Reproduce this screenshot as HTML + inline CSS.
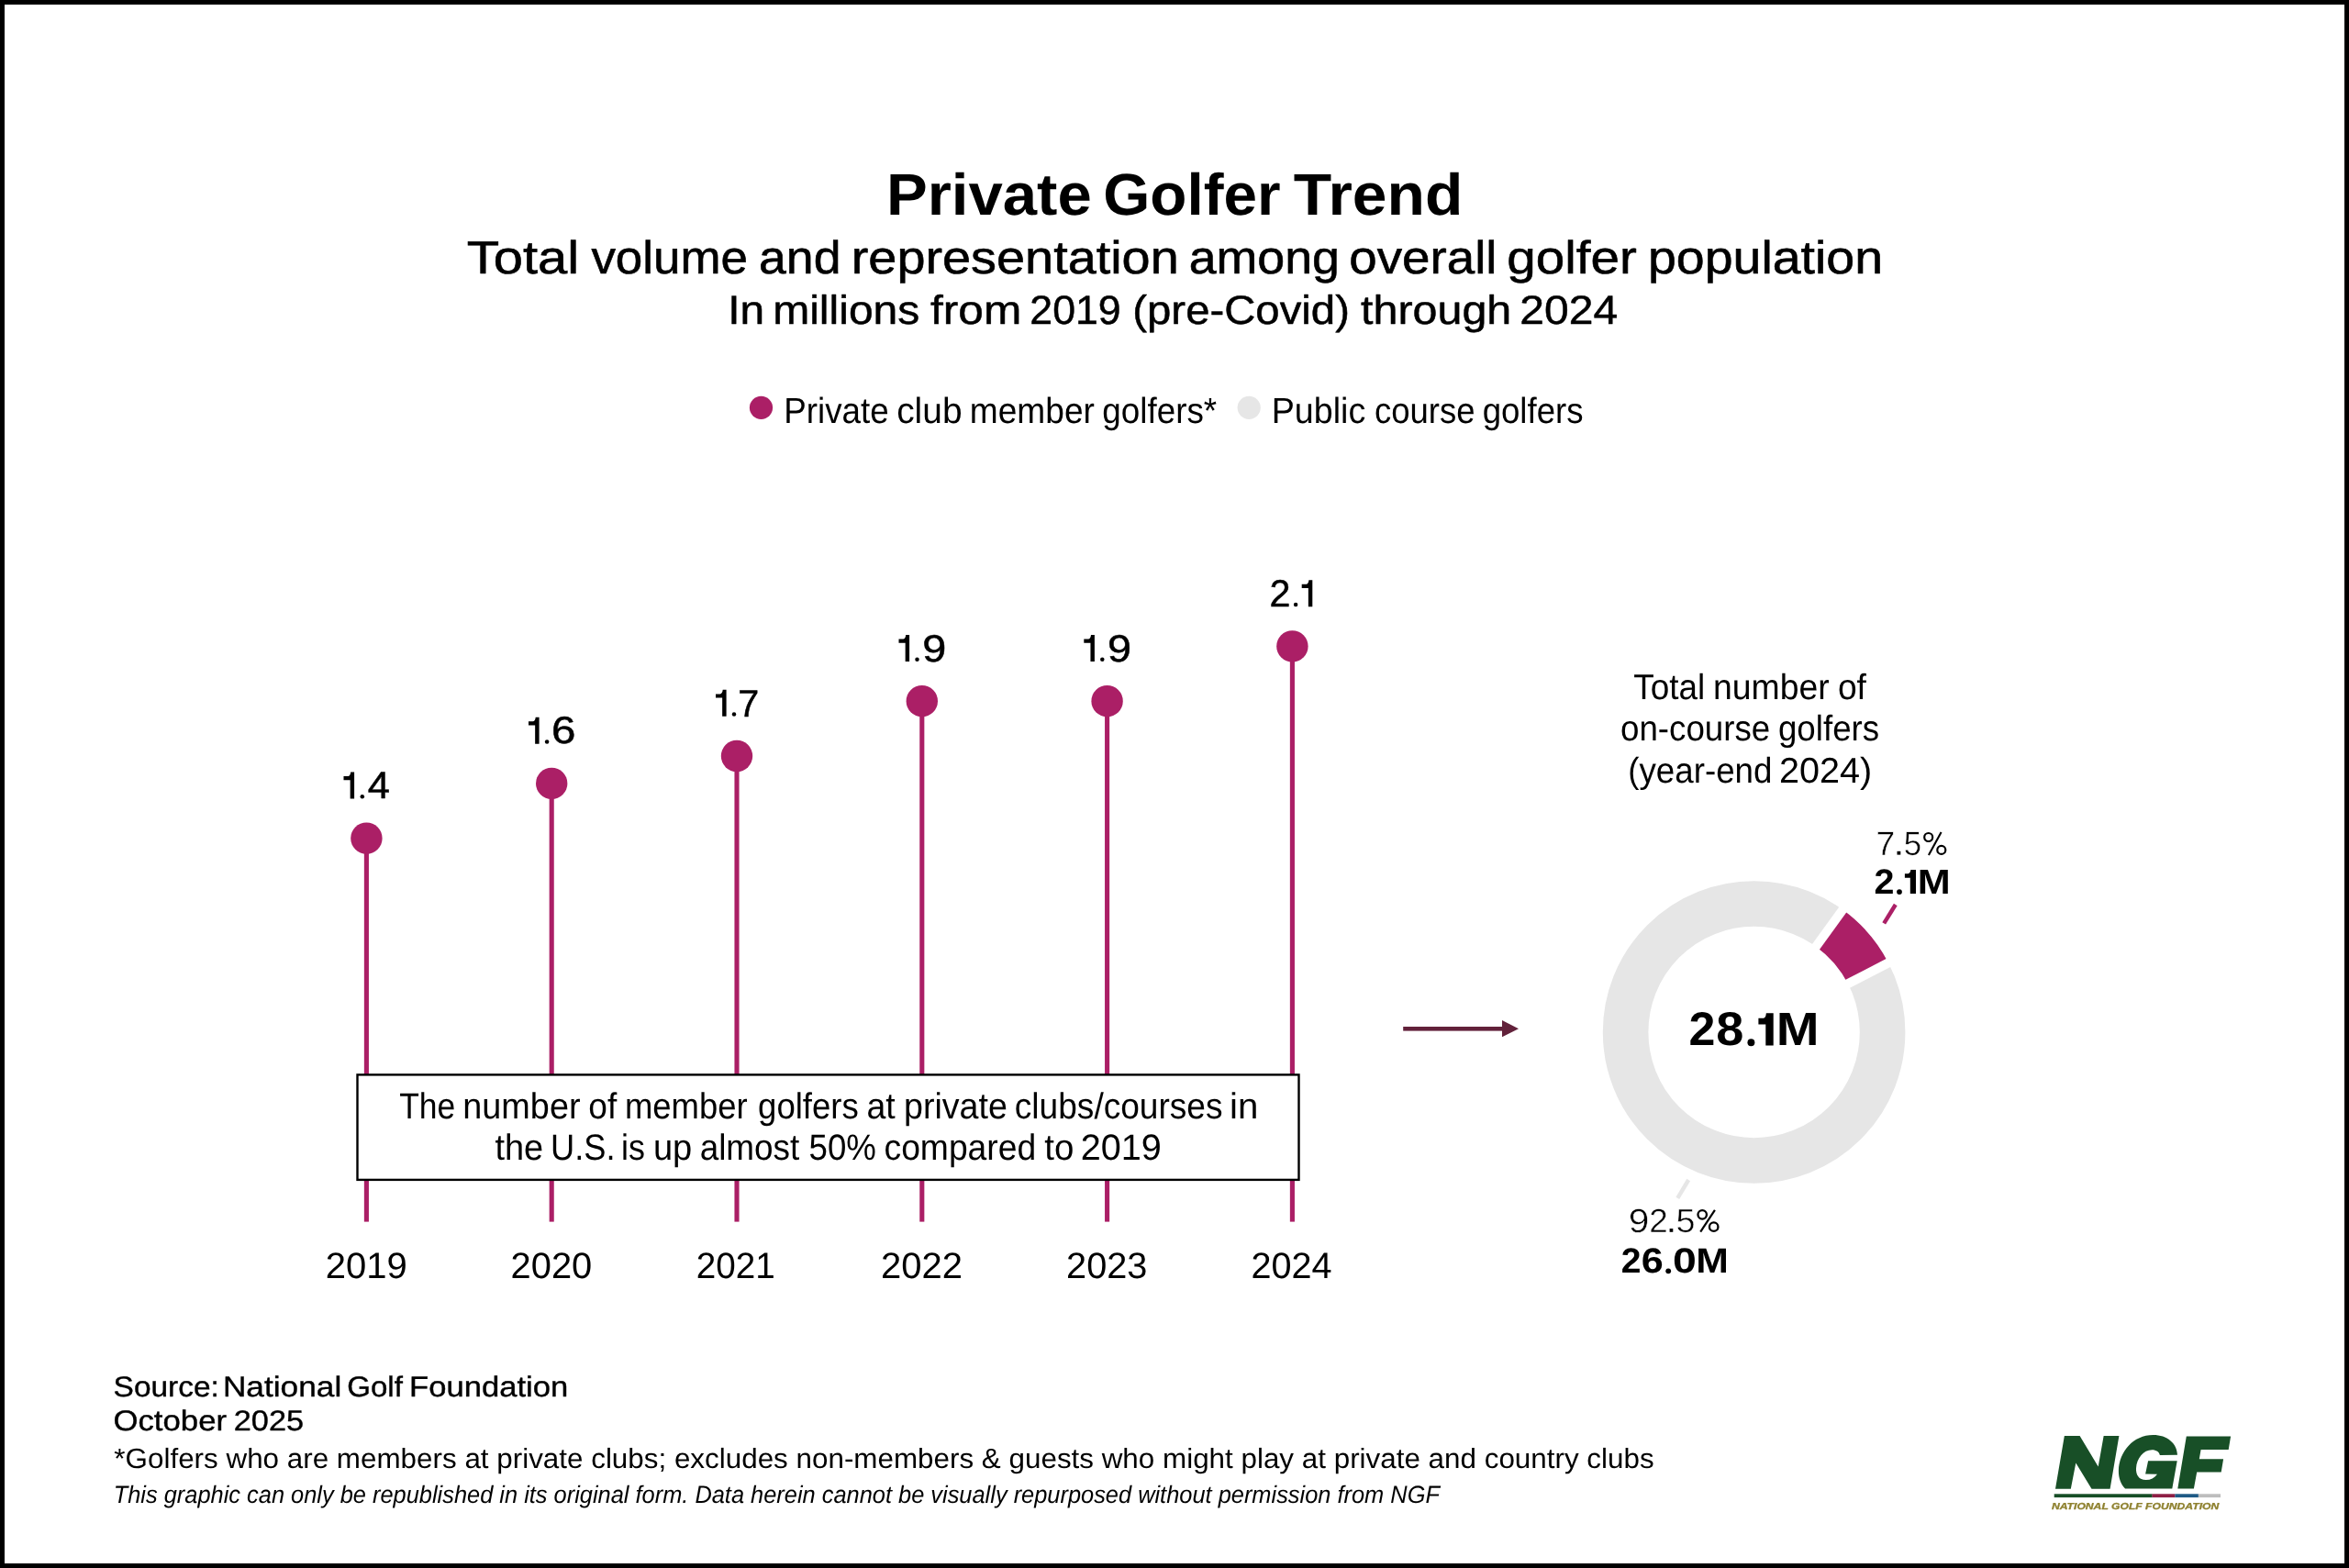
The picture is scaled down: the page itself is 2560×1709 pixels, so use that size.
<!DOCTYPE html>
<html lang="en"><head><meta charset="utf-8"><title>Private Golfer Trend</title>
<style>
html,body{margin:0;padding:0;background:#fff;}
body{width:2560px;height:1709px;overflow:hidden;position:relative;font-family:"Liberation Sans",sans-serif;}
#frame{position:absolute;left:0;top:0;width:2550px;height:1699px;border:5px solid #000;background:#fff;}
svg{position:absolute;left:0;top:0;will-change:transform;}
svg text{font-family:"Liberation Sans",sans-serif;text-rendering:geometricPrecision;}
</style></head><body>
<div id="frame"></div>
<svg width="2560" height="1709" viewBox="0 0 2560 1709">
<rect x="396.85" y="913.70" width="5.1" height="417.90" fill="#ab1f66"/>
<circle cx="399.40" cy="913.70" r="17.2" fill="#ab1f66"/>
<rect x="598.65" y="853.90" width="5.1" height="477.70" fill="#ab1f66"/>
<circle cx="601.20" cy="853.90" r="17.2" fill="#ab1f66"/>
<rect x="800.45" y="824.00" width="5.1" height="507.60" fill="#ab1f66"/>
<circle cx="803.00" cy="824.00" r="17.2" fill="#ab1f66"/>
<rect x="1002.25" y="764.20" width="5.1" height="567.40" fill="#ab1f66"/>
<circle cx="1004.80" cy="764.20" r="17.2" fill="#ab1f66"/>
<rect x="1204.05" y="764.20" width="5.1" height="567.40" fill="#ab1f66"/>
<circle cx="1206.60" cy="764.20" r="17.2" fill="#ab1f66"/>
<rect x="1405.85" y="704.40" width="5.1" height="627.20" fill="#ab1f66"/>
<circle cx="1408.40" cy="704.40" r="17.2" fill="#ab1f66"/>
<path fill="#000" d="M382.20,841.50 L386.10,841.50 L386.10,870.50 L381.65,870.50 L381.65,850.20 L374.50,850.20 L374.50,846.10 L379.25,846.10 Q381.75,845.90 382.20,841.50 Z"/>
<circle cx="394.80" cy="868.30" r="2.25" fill="#000"/>
<text x="400.65" y="870.25" font-size="41.43" font-weight="normal" font-style="normal" fill="#000" textLength="24.17" lengthAdjust="spacingAndGlyphs" stroke="#000" stroke-width="0.5" stroke-linejoin="round">4</text>
<path fill="#000" d="M583.70,781.70 L587.60,781.70 L587.60,810.70 L583.15,810.70 L583.15,790.40 L576.00,790.40 L576.00,786.30 L580.75,786.30 Q583.25,786.10 583.70,781.70 Z"/>
<circle cx="596.10" cy="808.50" r="2.25" fill="#000"/>
<text x="601.04" y="810.45" font-size="41.43" font-weight="normal" font-style="normal" fill="#000" textLength="26.40" lengthAdjust="spacingAndGlyphs" stroke="#000" stroke-width="0.5" stroke-linejoin="round">6</text>
<path fill="#000" d="M787.70,751.80 L791.60,751.80 L791.60,780.80 L787.15,780.80 L787.15,760.50 L780.00,760.50 L780.00,756.40 L784.75,756.40 Q787.25,756.20 787.70,751.80 Z"/>
<circle cx="800.00" cy="778.60" r="2.25" fill="#000"/>
<text x="804.13" y="780.55" font-size="41.43" font-weight="normal" font-style="normal" fill="#000" textLength="23.00" lengthAdjust="spacingAndGlyphs" stroke="#000" stroke-width="0.5" stroke-linejoin="round">7</text>
<path fill="#000" d="M987.20,692.00 L991.10,692.00 L991.10,721.00 L986.65,721.00 L986.65,700.70 L979.50,700.70 L979.50,696.60 L984.25,696.60 Q986.75,696.40 987.20,692.00 Z"/>
<circle cx="999.50" cy="718.80" r="2.25" fill="#000"/>
<text x="1005.16" y="720.75" font-size="41.43" font-weight="normal" font-style="normal" fill="#000" textLength="26.01" lengthAdjust="spacingAndGlyphs" stroke="#000" stroke-width="0.5" stroke-linejoin="round">9</text>
<path fill="#000" d="M1189.00,692.00 L1192.90,692.00 L1192.90,721.00 L1188.45,721.00 L1188.45,700.70 L1181.30,700.70 L1181.30,696.60 L1186.05,696.60 Q1188.55,696.40 1189.00,692.00 Z"/>
<circle cx="1201.30" cy="718.80" r="2.25" fill="#000"/>
<text x="1206.96" y="720.75" font-size="41.43" font-weight="normal" font-style="normal" fill="#000" textLength="26.01" lengthAdjust="spacingAndGlyphs" stroke="#000" stroke-width="0.5" stroke-linejoin="round">9</text>
<path fill="#000" d="M1426.40,632.20 L1430.30,632.20 L1430.30,661.20 L1425.85,661.20 L1425.85,640.90 L1418.70,640.90 L1418.70,636.80 L1423.45,636.80 Q1425.95,636.60 1426.40,632.20 Z"/>
<circle cx="1412.10" cy="659.00" r="2.25" fill="#000"/>
<text x="1383.47" y="660.95" font-size="41.43" font-weight="normal" font-style="normal" fill="#000" textLength="22.95" lengthAdjust="spacingAndGlyphs" stroke="#000" stroke-width="0.5" stroke-linejoin="round">2</text>
<rect x="389.5" y="1171.4" width="1026" height="114.5" fill="#fff" stroke="#000" stroke-width="2.4"/>
<text x="435.20" y="1218.80" font-size="39.68" font-weight="normal" font-style="normal" fill="#000" textLength="61.07" lengthAdjust="spacingAndGlyphs">The</text>
<text x="504.29" y="1218.80" font-size="39.68" font-weight="normal" font-style="normal" fill="#000" textLength="128.24" lengthAdjust="spacingAndGlyphs">number</text>
<text x="641.34" y="1218.80" font-size="39.68" font-weight="normal" font-style="normal" fill="#000" textLength="30.90" lengthAdjust="spacingAndGlyphs">of</text>
<text x="680.88" y="1218.80" font-size="39.68" font-weight="normal" font-style="normal" fill="#000" textLength="133.73" lengthAdjust="spacingAndGlyphs">member</text>
<text x="826.06" y="1218.80" font-size="39.68" font-weight="normal" font-style="normal" fill="#000" textLength="109.76" lengthAdjust="spacingAndGlyphs">golfers</text>
<text x="944.41" y="1218.80" font-size="39.68" font-weight="normal" font-style="normal" fill="#000" textLength="31.27" lengthAdjust="spacingAndGlyphs">at</text>
<text x="984.98" y="1218.80" font-size="39.68" font-weight="normal" font-style="normal" fill="#000" textLength="112.90" lengthAdjust="spacingAndGlyphs">private</text>
<text x="1105.82" y="1218.80" font-size="39.68" font-weight="normal" font-style="normal" fill="#000" textLength="226.72" lengthAdjust="spacingAndGlyphs">clubs/courses</text>
<text x="1340.01" y="1218.80" font-size="39.68" font-weight="normal" font-style="normal" fill="#000" textLength="31.30" lengthAdjust="spacingAndGlyphs">in</text>
<text x="539.43" y="1264.20" font-size="39.68" font-weight="normal" font-style="normal" fill="#000" textLength="52.76" lengthAdjust="spacingAndGlyphs">the</text>
<text x="600.00" y="1264.20" font-size="39.68" font-weight="normal" font-style="normal" fill="#000" textLength="70.51" lengthAdjust="spacingAndGlyphs">U.S.</text>
<text x="677.00" y="1264.20" font-size="39.68" font-weight="normal" font-style="normal" fill="#000" textLength="25.89" lengthAdjust="spacingAndGlyphs">is</text>
<text x="711.93" y="1264.20" font-size="39.68" font-weight="normal" font-style="normal" fill="#000" textLength="42.37" lengthAdjust="spacingAndGlyphs">up</text>
<text x="762.63" y="1264.20" font-size="39.68" font-weight="normal" font-style="normal" fill="#000" textLength="108.64" lengthAdjust="spacingAndGlyphs">almost</text>
<text x="881.53" y="1264.20" font-size="39.68" font-weight="normal" font-style="normal" fill="#000" textLength="73.37" lengthAdjust="spacingAndGlyphs">50%</text>
<text x="963.52" y="1264.20" font-size="39.68" font-weight="normal" font-style="normal" fill="#000" textLength="165.68" lengthAdjust="spacingAndGlyphs">compared</text>
<text x="1138.22" y="1264.20" font-size="39.68" font-weight="normal" font-style="normal" fill="#000" textLength="32.10" lengthAdjust="spacingAndGlyphs">to</text>
<text x="1177.71" y="1264.20" font-size="39.68" font-weight="normal" font-style="normal" fill="#000" textLength="88.17" lengthAdjust="spacingAndGlyphs">2019</text>
<text x="354.79" y="1392.90" font-size="39.83" font-weight="normal" font-style="normal" fill="#000" textLength="89.01" lengthAdjust="spacingAndGlyphs">2019</text>
<text x="556.60" y="1392.90" font-size="39.83" font-weight="normal" font-style="normal" fill="#000" textLength="88.66" lengthAdjust="spacingAndGlyphs">2020</text>
<text x="758.75" y="1392.90" font-size="39.83" font-weight="normal" font-style="normal" fill="#000" textLength="86.03" lengthAdjust="spacingAndGlyphs">2021</text>
<text x="959.99" y="1392.90" font-size="39.83" font-weight="normal" font-style="normal" fill="#000" textLength="88.92" lengthAdjust="spacingAndGlyphs">2022</text>
<text x="1162.10" y="1392.90" font-size="39.83" font-weight="normal" font-style="normal" fill="#000" textLength="88.34" lengthAdjust="spacingAndGlyphs">2023</text>
<text x="1363.41" y="1392.90" font-size="39.83" font-weight="normal" font-style="normal" fill="#000" textLength="88.15" lengthAdjust="spacingAndGlyphs">2024</text>
<text x="965.91" y="233.80" font-size="63.95" font-weight="bold" font-style="normal" fill="#000" textLength="223.88" lengthAdjust="spacingAndGlyphs">Private</text>
<text x="1202.21" y="233.80" font-size="63.95" font-weight="bold" font-style="normal" fill="#000" textLength="193.39" lengthAdjust="spacingAndGlyphs">Golfer</text>
<text x="1409.75" y="233.80" font-size="63.95" font-weight="bold" font-style="normal" fill="#000" textLength="184.63" lengthAdjust="spacingAndGlyphs">Trend</text>
<text x="508.76" y="297.70" font-size="50.44" font-weight="normal" font-style="normal" fill="#000" textLength="122.32" lengthAdjust="spacingAndGlyphs" stroke="#000" stroke-width="0.6" stroke-linejoin="round">Total</text>
<text x="644.42" y="297.70" font-size="50.44" font-weight="normal" font-style="normal" fill="#000" textLength="170.53" lengthAdjust="spacingAndGlyphs" stroke="#000" stroke-width="0.6" stroke-linejoin="round">volume</text>
<text x="827.02" y="297.70" font-size="50.44" font-weight="normal" font-style="normal" fill="#000" textLength="89.43" lengthAdjust="spacingAndGlyphs" stroke="#000" stroke-width="0.6" stroke-linejoin="round">and</text>
<text x="927.79" y="297.70" font-size="50.44" font-weight="normal" font-style="normal" fill="#000" textLength="356.93" lengthAdjust="spacingAndGlyphs" stroke="#000" stroke-width="0.6" stroke-linejoin="round">representation</text>
<text x="1295.72" y="297.70" font-size="50.44" font-weight="normal" font-style="normal" fill="#000" textLength="164.24" lengthAdjust="spacingAndGlyphs" stroke="#000" stroke-width="0.6" stroke-linejoin="round">among</text>
<text x="1470.30" y="297.70" font-size="50.44" font-weight="normal" font-style="normal" fill="#000" textLength="161.16" lengthAdjust="spacingAndGlyphs" stroke="#000" stroke-width="0.6" stroke-linejoin="round">overall</text>
<text x="1642.33" y="297.70" font-size="50.44" font-weight="normal" font-style="normal" fill="#000" textLength="141.41" lengthAdjust="spacingAndGlyphs" stroke="#000" stroke-width="0.6" stroke-linejoin="round">golfer</text>
<text x="1795.92" y="297.70" font-size="50.44" font-weight="normal" font-style="normal" fill="#000" textLength="256.18" lengthAdjust="spacingAndGlyphs" stroke="#000" stroke-width="0.6" stroke-linejoin="round">population</text>
<text x="793.23" y="352.65" font-size="44.19" font-weight="normal" font-style="normal" fill="#000" textLength="39.93" lengthAdjust="spacingAndGlyphs" stroke="#000" stroke-width="0.5" stroke-linejoin="round">In</text>
<text x="842.16" y="352.65" font-size="44.19" font-weight="normal" font-style="normal" fill="#000" textLength="160.23" lengthAdjust="spacingAndGlyphs" stroke="#000" stroke-width="0.5" stroke-linejoin="round">millions</text>
<text x="1014.05" y="352.65" font-size="44.19" font-weight="normal" font-style="normal" fill="#000" textLength="99.27" lengthAdjust="spacingAndGlyphs" stroke="#000" stroke-width="0.5" stroke-linejoin="round">from</text>
<text x="1122.30" y="352.65" font-size="44.19" font-weight="normal" font-style="normal" fill="#000" textLength="99.36" lengthAdjust="spacingAndGlyphs" stroke="#000" stroke-width="0.5" stroke-linejoin="round">2019</text>
<text x="1234.32" y="352.65" font-size="44.19" font-weight="normal" font-style="normal" fill="#000" textLength="236.57" lengthAdjust="spacingAndGlyphs" stroke="#000" stroke-width="0.5" stroke-linejoin="round">(pre-Covid)</text>
<text x="1483.02" y="352.65" font-size="44.19" font-weight="normal" font-style="normal" fill="#000" textLength="164.28" lengthAdjust="spacingAndGlyphs" stroke="#000" stroke-width="0.5" stroke-linejoin="round">through</text>
<text x="1656.34" y="352.65" font-size="44.19" font-weight="normal" font-style="normal" fill="#000" textLength="106.82" lengthAdjust="spacingAndGlyphs" stroke="#000" stroke-width="0.5" stroke-linejoin="round">2024</text>
<circle cx="829.5" cy="444.3" r="12.6" fill="#ab1f66"/>
<circle cx="1361.2" cy="444.3" r="12.6" fill="#e6e6e6"/>
<text x="854.28" y="460.60" font-size="39.39" font-weight="normal" font-style="normal" fill="#000" textLength="114.45" lengthAdjust="spacingAndGlyphs">Private</text>
<text x="977.15" y="460.60" font-size="39.39" font-weight="normal" font-style="normal" fill="#000" textLength="71.39" lengthAdjust="spacingAndGlyphs">club</text>
<text x="1056.84" y="460.60" font-size="39.39" font-weight="normal" font-style="normal" fill="#000" textLength="136.08" lengthAdjust="spacingAndGlyphs">member</text>
<text x="1201.35" y="460.60" font-size="39.39" font-weight="normal" font-style="normal" fill="#000" textLength="124.82" lengthAdjust="spacingAndGlyphs">golfers*</text>
<text x="1385.71" y="460.60" font-size="39.39" font-weight="normal" font-style="normal" fill="#000" textLength="102.58" lengthAdjust="spacingAndGlyphs">Public</text>
<text x="1497.95" y="460.60" font-size="39.39" font-weight="normal" font-style="normal" fill="#000" textLength="109.57" lengthAdjust="spacingAndGlyphs">course</text>
<text x="1615.66" y="460.60" font-size="39.39" font-weight="normal" font-style="normal" fill="#000" textLength="109.86" lengthAdjust="spacingAndGlyphs">golfers</text>
<rect x="1529.2" y="1119" width="109" height="4.6" fill="#62213a"/>
<polygon points="1637,1112.1 1655,1121.3 1637,1130.3" fill="#62213a"/>
<circle cx="1911.6" cy="1125.0" r="140.0" fill="none" stroke="#e6e6e6" stroke-width="49.60000000000001"/>
<path d="M2008.23,991.51 A164.8,164.8 0 0 1 2058.04,1049.41 L2013.97,1072.16 A115.2,115.2 0 0 0 1979.15,1031.68 Z" fill="#ab1f66"/>
<line x1="1977.39" y1="1034.11" x2="2009.99" y2="989.08" stroke="#fff" stroke-width="10"/>
<line x1="2011.30" y1="1073.54" x2="2060.71" y2="1048.04" stroke="#fff" stroke-width="10"/>
<line x1="2053.2" y1="1006.4" x2="2065.8" y2="986.0" stroke="#ab1f66" stroke-width="4.4"/>
<line x1="1840.2" y1="1286" x2="1828.3" y2="1305.9" stroke="#e6e6e6" stroke-width="4.4"/>
<text x="1780.21" y="761.80" font-size="38.95" font-weight="normal" font-style="normal" fill="#000" textLength="77.93" lengthAdjust="spacingAndGlyphs">Total</text>
<text x="1867.02" y="761.80" font-size="38.95" font-weight="normal" font-style="normal" fill="#000" textLength="126.70" lengthAdjust="spacingAndGlyphs">number</text>
<text x="2002.94" y="761.80" font-size="38.95" font-weight="normal" font-style="normal" fill="#000" textLength="31.01" lengthAdjust="spacingAndGlyphs">of</text>
<text x="1766.06" y="807.20" font-size="38.95" font-weight="normal" font-style="normal" fill="#000" textLength="163.17" lengthAdjust="spacingAndGlyphs">on-course</text>
<text x="1937.96" y="807.20" font-size="38.95" font-weight="normal" font-style="normal" fill="#000" textLength="110.17" lengthAdjust="spacingAndGlyphs">golfers</text>
<text x="1774.22" y="852.60" font-size="38.95" font-weight="normal" font-style="normal" fill="#000" textLength="157.25" lengthAdjust="spacingAndGlyphs">(year-end</text>
<text x="1939.01" y="852.60" font-size="38.95" font-weight="normal" font-style="normal" fill="#000" textLength="101.25" lengthAdjust="spacingAndGlyphs">2024)</text>
<text x="2044.54" y="931.85" font-size="36.63" font-weight="normal" font-style="normal" fill="#000" textLength="20.68" lengthAdjust="spacingAndGlyphs" stroke="#fff" stroke-width="0.5" stroke-linejoin="round">7</text>
<text x="2074.86" y="931.85" font-size="36.63" font-weight="normal" font-style="normal" fill="#000" textLength="19.35" lengthAdjust="spacingAndGlyphs" stroke="#fff" stroke-width="0.5" stroke-linejoin="round">5</text>
<rect x="2067.5" y="927.8" width="3.8" height="3.8" fill="#000"/>
<circle cx="2101.7" cy="912.5" r="4.50" fill="none" stroke="#000" stroke-width="2.2"/><circle cx="2115.8" cy="926.4" r="4.50" fill="none" stroke="#000" stroke-width="2.2"/><line x1="2115.6" y1="906.9" x2="2101.9" y2="931.9" stroke="#000" stroke-width="2.1"/>
<text x="2042.53" y="974.05" font-size="38.23" font-weight="bold" font-style="normal" fill="#000" textLength="21.95" lengthAdjust="spacingAndGlyphs">2</text>
<circle cx="2070" cy="972.1" r="2.9" fill="#000"/>
<path fill="#000" d="M2082.35,948.05 L2088.00,948.05 L2088.00,974.05 L2081.80,974.05 L2081.80,956.75 L2075.90,956.75 L2075.90,952.25 L2079.40,952.25 Q2081.90,952.05 2082.35,948.05 Z"/>
<text x="2089.81" y="974.05" font-size="37.79" font-weight="bold" font-style="normal" fill="#000" textLength="35.98" lengthAdjust="spacingAndGlyphs">M</text>
<text x="1774.70" y="1343.05" font-size="36.48" font-weight="normal" font-style="normal" fill="#000" textLength="22.58" lengthAdjust="spacingAndGlyphs" stroke="#fff" stroke-width="0.5" stroke-linejoin="round">9</text>
<text x="1797.20" y="1343.05" font-size="36.48" font-weight="normal" font-style="normal" fill="#000" textLength="20.51" lengthAdjust="spacingAndGlyphs" stroke="#fff" stroke-width="0.5" stroke-linejoin="round">2</text>
<text x="1826.54" y="1343.05" font-size="36.48" font-weight="normal" font-style="normal" fill="#000" textLength="21.00" lengthAdjust="spacingAndGlyphs" stroke="#fff" stroke-width="0.5" stroke-linejoin="round">5</text>
<rect x="1819.6" y="1339.1" width="3.7" height="3.7" fill="#000"/>
<circle cx="1855.2" cy="1323.8" r="4.75" fill="none" stroke="#000" stroke-width="2.3"/><circle cx="1867.7" cy="1337.2" r="4.75" fill="none" stroke="#000" stroke-width="2.3"/><line x1="1868.9" y1="1318.9" x2="1853.2" y2="1342.7" stroke="#000" stroke-width="2.2"/>
<text x="1766.85" y="1387.10" font-size="38.23" font-weight="bold" font-style="normal" fill="#000" textLength="21.72" lengthAdjust="spacingAndGlyphs">2</text>
<text x="1788.72" y="1387.10" font-size="38.23" font-weight="bold" font-style="normal" fill="#000" textLength="24.05" lengthAdjust="spacingAndGlyphs">6</text>
<circle cx="1818.2" cy="1385.3" r="2.9" fill="#000"/>
<text x="1823.06" y="1387.10" font-size="38.23" font-weight="bold" font-style="normal" fill="#000" textLength="25.84" lengthAdjust="spacingAndGlyphs">0</text>
<text x="1848.34" y="1387.10" font-size="38.23" font-weight="bold" font-style="normal" fill="#000" textLength="35.62" lengthAdjust="spacingAndGlyphs">M</text>
<text x="1840.50" y="1139.40" font-size="51.45" font-weight="bold" font-style="normal" fill="#000" textLength="28.88" lengthAdjust="spacingAndGlyphs">2</text>
<text x="1870.38" y="1139.40" font-size="51.45" font-weight="bold" font-style="normal" fill="#000" textLength="30.08" lengthAdjust="spacingAndGlyphs">8</text>
<circle cx="1908.4" cy="1136.2" r="3.95" fill="#000"/>
<path fill="#000" d="M1924.85,1104.30 L1932.70,1104.30 L1932.70,1139.40 L1924.30,1139.40 L1924.30,1116.55 L1916.40,1116.55 L1916.40,1109.75 L1921.90,1109.75 Q1924.40,1109.55 1924.85,1104.30 Z"/>
<text x="1935.74" y="1139.40" font-size="51.02" font-weight="bold" font-style="normal" fill="#000" textLength="46.82" lengthAdjust="spacingAndGlyphs">M</text>
<text x="123.58" y="1521.50" font-size="31.25" font-weight="normal" font-style="normal" fill="#000" textLength="115.27" lengthAdjust="spacingAndGlyphs" stroke="#000" stroke-width="0.4" stroke-linejoin="round">Source:</text>
<text x="242.91" y="1521.50" font-size="31.25" font-weight="normal" font-style="normal" fill="#000" textLength="129.35" lengthAdjust="spacingAndGlyphs" stroke="#000" stroke-width="0.4" stroke-linejoin="round">National</text>
<text x="378.24" y="1521.50" font-size="31.25" font-weight="normal" font-style="normal" fill="#000" textLength="60.61" lengthAdjust="spacingAndGlyphs" stroke="#000" stroke-width="0.4" stroke-linejoin="round">Golf</text>
<text x="446.06" y="1521.50" font-size="31.25" font-weight="normal" font-style="normal" fill="#000" textLength="173.19" lengthAdjust="spacingAndGlyphs" stroke="#000" stroke-width="0.4" stroke-linejoin="round">Foundation</text>
<text x="123.45" y="1559.40" font-size="31.25" font-weight="normal" font-style="normal" fill="#000" textLength="123.62" lengthAdjust="spacingAndGlyphs" stroke="#000" stroke-width="0.4" stroke-linejoin="round">October</text>
<text x="254.77" y="1559.40" font-size="31.25" font-weight="normal" font-style="normal" fill="#000" textLength="76.37" lengthAdjust="spacingAndGlyphs" stroke="#000" stroke-width="0.4" stroke-linejoin="round">2025</text>
<text x="124.39" y="1599.90" font-size="30.52" font-weight="normal" font-style="normal" fill="#000" textLength="1678.24" lengthAdjust="spacingAndGlyphs">*Golfers who are members at private clubs; excludes non-members &amp; guests who might play at private and country clubs</text>
<text x="123.72" y="1638.20" font-size="26.74" font-weight="normal" font-style="italic" fill="#000" textLength="1445.19" lengthAdjust="spacingAndGlyphs">This graphic can only be republished in its original form. Data herein cannot be visually repurposed without permission from NGF</text>
<polygon fill="#184f27" points="2249.85,1565.1 2266.6,1565.1 2286.7,1598.5 2292.65,1565.1 2309.4,1565.1 2299.6,1622.8 2279.5,1622.8 2262.3,1594.45 2256.8,1622.8 2240,1622.8"/>
<path fill="#184f27" d="M2373,1585.7 C2372.5,1573 2362,1563.9 2346.5,1563.9 C2325,1563.9 2309.5,1582 2308.9,1602.7 C2308.7,1611 2311.5,1618 2316.1,1622.6 L2367.3,1622.6 L2372.7,1592.2 L2341.1,1592.2 L2338.1,1606.5 L2351,1606.8 C2348,1611 2344,1613.1 2338.7,1613.1 C2331,1613.1 2327.6,1607.5 2328,1600.3 C2328.6,1589.5 2336,1580.3 2345.3,1580.3 C2350,1580.3 2353,1582.5 2353.9,1586 Z"/>
<polygon fill="#184f27" points="2382.8,1565.4 2431.1,1565.4 2428.7,1580 2398.6,1580 2396.8,1590.2 2423.1,1590.2 2420.7,1604.5 2394.2,1604.5 2390.9,1622.6 2373.3,1622.6"/>
<rect x="2238.7" y="1628.3" width="107" height="3.8" fill="#184f27"/>
<rect x="2345.5" y="1628.3" width="25" height="3.8" fill="#8e1f45"/>
<rect x="2370.4" y="1628.3" width="25.5" height="3.8" fill="#1f5a85"/>
<rect x="2395.9" y="1628.3" width="24.1" height="3.8" fill="#bdbdbd"/>
<text x="2235.94" y="1644.95" font-size="10.03" font-weight="bold" font-style="italic" fill="#8f8230" textLength="182.31" lengthAdjust="spacingAndGlyphs" stroke="#8f8230" stroke-width="0.3" stroke-linejoin="round">NATIONAL GOLF FOUNDATION</text>
</svg>
</body></html>
